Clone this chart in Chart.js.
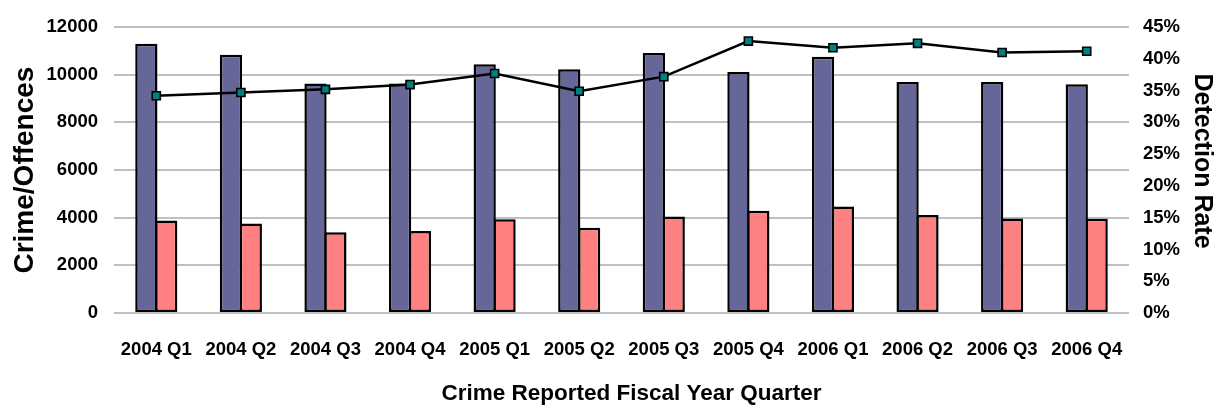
<!DOCTYPE html>
<html>
<head>
<meta charset="utf-8">
<script src="https://cdn.jsdelivr.net/npm/chart.js@4/dist/chart.umd.min.js"></script>
<style>
  html, body { margin: 0; padding: 0; background: #ffffff; }
  #wrap { width: 1215px; height: 406px; }
</style>
</head>
<body>
<div id="wrap"><canvas id="c" width="1215" height="406"></canvas></div>
<script>
const categories = ['2004 Q1', '2004 Q2', '2004 Q3', '2004 Q4', '2005 Q1', '2005 Q2',
                    '2005 Q3', '2005 Q4', '2006 Q1', '2006 Q2', '2006 Q3', '2006 Q4'];
const crimeOffences = [11300, 10840, 9630, 9630, 10440, 10230, 10910, 10120, 10760, 9700, 9700, 9600];
const detections    = [3880, 3760, 3390, 3440, 3930, 3580, 4055, 4290, 4470, 4110, 3970, 3960];
const detectionRate = [34.2, 34.7, 35.2, 35.95, 37.7, 34.9, 37.2, 42.8, 41.75, 42.45, 41.0, 41.2];
const leftTicks = [0, 2000, 4000, 6000, 8000, 10000, 12000];
const rightTicks = [0, 5, 10, 15, 20, 25, 30, 35, 40, 45];

const FONT = '"Liberation Sans", Arial, Helvetica, sans-serif';

// detect whether a narrow sans is installed (for the right axis title)
const probe = document.createElement('canvas').getContext('2d');
probe.font = 'bold 30px "Liberation Sans Narrow", monospace';
const wNarrow = probe.measureText('Detection Rate').width;
probe.font = 'bold 30px monospace';
const wMono = probe.measureText('Detection Rate').width;
const hasNarrow = Math.abs(wNarrow - wMono) > 0.5;
const rightTitleFont = hasNarrow
  ? { family: '"Liberation Sans Narrow", ' + FONT, size: 30, weight: 'bold' }
  : { family: FONT, size: 25, weight: 'bold' };

function shiftTitle(scale, dx, dy) {
  if (!scale || scale._shifted) return;
  const orig = scale.drawTitle.bind(scale);
  scale.drawTitle = function () {
    const ctx = this.ctx;
    ctx.save();
    ctx.translate(dx, dy);
    orig();
    ctx.restore();
  };
  scale._shifted = true;
}

const titleShiftPlugin = {
  id: 'titleShift',
  beforeDraw(chart) {
    shiftTitle(chart.scales.y1, 0, -9);
    shiftTitle(chart.scales.x, 10, 0);
  }
};

new Chart(document.getElementById('c'), {
  type: 'bar',
  data: {
    labels: categories,
    datasets: [
      {
        type: 'line',
        label: 'Detection Rate',
        data: detectionRate,
        yAxisID: 'y1',
        order: 0,
        borderColor: '#000000',
        borderWidth: 2.5,
        pointStyle: 'rect',
        pointRadius: 5.7,
        pointHoverRadius: 5.7,
        pointBackgroundColor: '#008080',
        pointBorderColor: '#000000',
        pointBorderWidth: 1.6,
        tension: 0,
        fill: false
      },
      {
        label: 'Crime/Offences',
        data: crimeOffences,
        yAxisID: 'y',
        order: 1,
        backgroundColor: '#666699',
        borderColor: '#000000',
        borderWidth: 2.5,
        borderSkipped: false,
        categoryPercentage: 0.47,
        barPercentage: 1.12
      },
      {
        label: 'Detections',
        data: detections,
        yAxisID: 'y',
        order: 1,
        backgroundColor: '#FF8080',
        borderColor: '#000000',
        borderWidth: 2.5,
        borderSkipped: false,
        categoryPercentage: 0.47,
        barPercentage: 1.12
      }
    ]
  },
  options: {
    responsive: false,
    animation: false,
    layout: { padding: { top: 26, left: 0, right: 0, bottom: 0 } },
    plugins: {
      legend: { display: false },
      tooltip: { enabled: false }
    },
    scales: {
      x: {
        grid: { display: false, drawTicks: false },
        border: { display: false },
        ticks: {
          color: '#000000',
          font: { family: FONT, size: 18.5, weight: 'bold' },
          padding: 25.5,
          maxRotation: 0,
          autoSkip: false
        },
        title: {
          display: true,
          text: 'Crime Reported Fiscal Year Quarter',
          color: '#000000',
          font: { family: FONT, size: 22.5, weight: 'bold' },
          padding: { top: 0, bottom: -1 }
        },
        afterFit(s) { s.height = 93; }
      },
      y: {
        position: 'left',
        min: 0,
        max: 12000,
        grid: { color: '#c0c0c0', lineWidth: 2, drawTicks: false },
        border: { display: false },
        afterBuildTicks(s) { s.ticks = leftTicks.map(v => ({ value: v })); },
        ticks: {
          color: '#000000',
          font: { family: FONT, size: 18.5, weight: 'bold' },
          padding: 16,
          callback: v => String(v)
        },
        title: {
          display: true,
          text: 'Crime/Offences',
          color: '#000000',
          font: { family: FONT, size: 28, weight: 'bold' },
          padding: { top: 8, bottom: 0 }
        },
        afterFit(s) { s.width = 114; }
      },
      y1: {
        position: 'right',
        min: 0,
        max: 45,
        grid: { drawOnChartArea: false, drawTicks: false },
        border: { display: false },
        afterBuildTicks(s) { s.ticks = rightTicks.map(v => ({ value: v })); },
        ticks: {
          color: '#000000',
          font: { family: FONT, size: 18.5, weight: 'bold' },
          padding: 14,
          callback: v => v + '%'
        },
        title: {
          display: true,
          text: 'Detection Rate',
          color: '#000000',
          font: rightTitleFont,
          padding: { top: -1.5, bottom: 0 }
        },
        afterFit(s) { s.width = 86; }
      }
    }
  },
  plugins: [titleShiftPlugin]
});
</script>
</body>
</html>
